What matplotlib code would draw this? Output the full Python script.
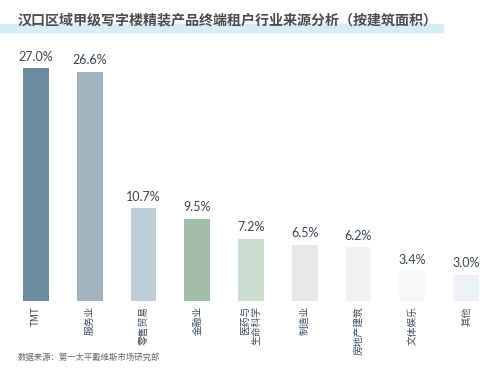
import matplotlib.pyplot as plt
from matplotlib.patches import Rectangle

plt.rcParams['font.family'] = ['Noto Sans CJK SC', 'DejaVu Sans']

categories = ['TMT', '服务业', '零售贸易', '金融业', '医药与\n生命科学', '制造业', '房地产建筑', '文体娱乐', '其他']
values = [27.0, 26.6, 10.7, 9.5, 7.2, 6.5, 6.2, 3.4, 3.0]
colors = ['#6a8c9e', '#a0b3bf', '#bccdd6', '#a3bcab', '#cddcd1',
          '#e8e8e8', '#f1f1f1', '#f8f8f8', '#eef2f7']

fig = plt.figure(figsize=(5, 3.74), dpi=100)
ax = fig.add_axes([0.018, 0.1965, 0.968, 0.69])

x = range(len(values))
bars = ax.bar(x, values, width=0.48, color=colors)
for b, v in zip(bars, values):
    ax.annotate(f'{v:.1f}%', (b.get_x() + b.get_width() / 2, v),
                xytext=(0, 4), textcoords='offset points',
                ha='center', va='bottom', fontsize=9, color='#3d4654',
                family='Lato')

ax.set_xlim(-0.5, 8.5)
ax.set_ylim(0, 30)
ax.set_xticks(list(x))
ax.set_xticklabels(categories, rotation=90, fontsize=7, color='#3d4a5c',
                   va='top', ha='center', multialignment='right')
ax.tick_params(axis='x', length=0, pad=4)
ax.set_yticks([])
for s in ax.spines.values():
    s.set_visible(False)

# title with light blue highlight underneath
fig.patches.append(Rectangle((0, 1 - 32 / 374), 443 / 500, 8 / 374,
                             transform=fig.transFigure, color='#d6ecf7', zorder=0))
fig.text(18 / 500, 1 - 20 / 374, '汉口区域甲级写字楼精装产品终端租户行业来源分析（按建筑面积）',
         fontsize=10.1, fontweight='bold', color='#4a4a4a', va='center', ha='left')

fig.text(18 / 500, 1 - 357 / 374, '数据来源：第一太平戴维斯市场研究部',
         fontsize=6, color='#666666', va='center', ha='left')

plt.savefig('out.png', dpi=100)
